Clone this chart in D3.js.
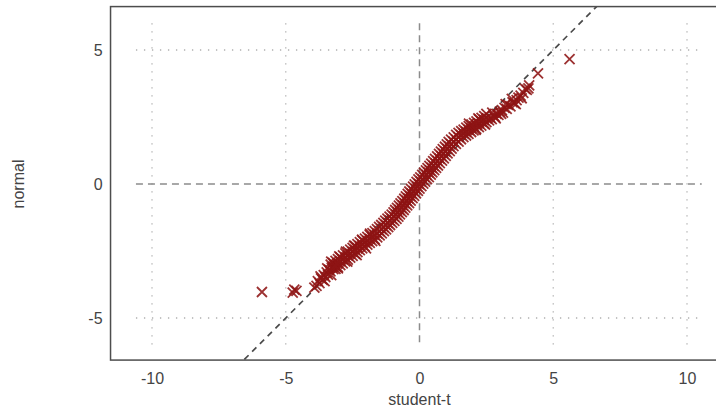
<!DOCTYPE html>
<html><head><meta charset="utf-8">
<script src="https://cdn.jsdelivr.net/npm/d3@7"></script>
<style>
html,body{margin:0;padding:0;background:#fff;}
svg{display:block;font-family:"Liberation Sans",Arial,sans-serif;}
</style>
</head><body>
<svg id="chart" width="716" height="410"></svg>
<script>
// ---- data ----
const xTicks = [-10, -5, 0, 5, 10];
const yTicks = [-5, 0, 5];
const xLabel = "student-t";
const yLabel = "normal";
const refLine = [[-8, -8], [8, 8]];   // y = x reference
// [student-t quantile, normal quantile]
const qqTail = [
  [-5.89,-4.03],[-4.74,-4.05],[-4.68,-3.94],[-4.60,-3.99],[-3.93,-3.87],
  [-3.80,-3.62],[-3.74,-3.70],[-3.68,-3.52],[-3.62,-3.58],[-3.58,-3.40],
  [-3.52,-3.47],[-3.47,-3.30],[-3.42,-3.38],[-3.38,-3.20],[-3.33,-3.26],
  [-3.28,-3.12],[-3.22,-3.18],[-3.18,-3.04],[-3.12,-3.08],[-3.08,-2.97],
  [-3.55,-3.62],[-3.30,-3.40],[-3.45,-3.15],[-3.70,-3.45],[-3.85,-3.80],
  [2.64,2.48],[2.70,2.42],[2.76,2.55],[2.82,2.50],[2.88,2.62],[2.95,2.58],
  [3.00,2.70],[3.08,2.76],[3.12,2.66],[3.18,2.84],[3.26,2.80],[3.32,2.95],
  [3.40,2.90],[3.48,3.05],[3.55,3.02],[3.63,3.13],[3.70,3.22],[3.78,3.30],
  [3.88,3.40],[4.01,3.51],[4.07,3.57],[4.10,3.68],[4.43,4.13],[5.61,4.66],
  [2.72,2.66],[2.85,2.45],[3.05,2.62],[3.22,2.98],[3.45,3.18],[3.60,2.98],
  [3.82,3.20],[3.95,3.55]
];
const qqCore = [
  [-3.23,-3.09],[-3.14,-3.02],[-3.05,-2.95],[-2.96,-2.88],[-2.87,-2.81],
  [-2.77,-2.74],[-2.68,-2.67],[-2.59,-2.60],[-2.50,-2.53],[-2.41,-2.46],
  [-2.32,-2.39],[-2.23,-2.32],[-2.14,-2.25],[-2.04,-2.18],[-1.95,-2.12],
  [-1.86,-2.05],[-1.77,-1.98],[-1.67,-1.91],[-1.58,-1.84],[-1.50,-1.76],
  [-1.42,-1.68],[-1.34,-1.61],[-1.26,-1.53],[-1.19,-1.45],[-1.11,-1.37],
  [-1.03,-1.30],[-0.95,-1.22],[-0.88,-1.14],[-0.82,-1.05],[-0.75,-0.97],
  [-0.68,-0.89],[-0.62,-0.80],[-0.55,-0.72],[-0.48,-0.63],[-0.42,-0.54],
  [-0.35,-0.45],[-0.29,-0.36],[-0.22,-0.27],[-0.15,-0.18],[-0.09,-0.09],
  [-0.02,0.00],[0.05,0.09],[0.12,0.17],[0.19,0.26],[0.26,0.34],
  [0.33,0.43],[0.39,0.51],[0.46,0.60],[0.53,0.68],[0.60,0.77],
  [0.67,0.86],[0.75,0.95],[0.82,1.04],[0.89,1.13],[0.96,1.22],
  [1.04,1.31],[1.11,1.40],[1.18,1.49],[1.27,1.58],[1.37,1.66],
  [1.46,1.75],[1.55,1.83],[1.65,1.89],[1.74,1.95],[1.84,2.02],
  [1.93,2.08],[2.03,2.14],[2.13,2.20],[2.22,2.26],[2.32,2.33],
  [2.41,2.39],[2.51,2.45]
];
const qqUpper = [
  [-3.32,-3.01],[-3.23,-2.94],[-3.14,-2.87],[-3.05,-2.80],[-2.96,-2.73],
  [-2.86,-2.66],[-2.77,-2.59],[-2.68,-2.52],[-2.59,-2.45],[-2.50,-2.38],
  [-2.41,-2.31],[-2.32,-2.24],[-2.23,-2.17],[-2.13,-2.10],[-2.04,-2.04],
  [-1.95,-1.97],[-1.86,-1.90],[-1.76,-1.83],[-1.67,-1.76],[-1.59,-1.68],
  [-1.51,-1.60],[-1.43,-1.53],[-1.35,-1.45],[-1.28,-1.37],[-1.20,-1.29],
  [-1.12,-1.22],[-1.04,-1.14],[-0.97,-1.06],[-0.91,-0.97],[-0.84,-0.89],
  [-0.77,-0.81],[-0.71,-0.72],[-0.64,-0.64],[-0.57,-0.55],[-0.51,-0.46],
  [-0.44,-0.37],[-0.38,-0.28],[-0.31,-0.19],[-0.24,-0.10],[-0.18,-0.01],
  [-0.11,0.08],[-0.04,0.17],[0.03,0.25],[0.10,0.34],[0.17,0.42],
  [0.24,0.51],[0.30,0.59],[0.37,0.68],[0.44,0.76],[0.51,0.85],
  [0.58,0.94],[0.66,1.03],[0.73,1.12],[0.80,1.21],[0.87,1.30],
  [0.95,1.39],[1.02,1.48],[1.09,1.57],[1.18,1.66],[1.28,1.74],
  [1.37,1.83],[1.46,1.91],[1.56,1.97],[1.65,2.03],[1.75,2.10],
  [1.84,2.16],[1.94,2.22],[2.04,2.28],[2.13,2.34],[2.23,2.41],
  [2.32,2.47],[2.42,2.53]
];
const qqLower = [
  [-3.14,-3.17],[-3.05,-3.10],[-2.96,-3.03],[-2.87,-2.96],[-2.78,-2.89],
  [-2.68,-2.82],[-2.59,-2.75],[-2.50,-2.68],[-2.41,-2.61],[-2.32,-2.54],
  [-2.23,-2.47],[-2.14,-2.40],[-2.05,-2.33],[-1.95,-2.26],[-1.86,-2.20],
  [-1.77,-2.13],[-1.68,-2.06],[-1.58,-1.99],[-1.49,-1.92],[-1.41,-1.84],
  [-1.33,-1.76],[-1.25,-1.69],[-1.17,-1.61],[-1.10,-1.53],[-1.02,-1.45],
  [-0.94,-1.38],[-0.86,-1.30],[-0.79,-1.22],[-0.73,-1.13],[-0.66,-1.05],
  [-0.59,-0.97],[-0.53,-0.88],[-0.46,-0.80],[-0.39,-0.71],[-0.33,-0.62],
  [-0.26,-0.53],[-0.20,-0.44],[-0.13,-0.35],[-0.06,-0.26],[0.00,-0.17],
  [0.07,-0.08],[0.14,0.01],[0.21,0.09],[0.28,0.18],[0.35,0.26],
  [0.42,0.35],[0.48,0.43],[0.55,0.52],[0.62,0.60],[0.69,0.69],
  [0.76,0.78],[0.84,0.87],[0.91,0.96],[0.98,1.05],[1.05,1.14],
  [1.13,1.23],[1.20,1.32],[1.27,1.41],[1.36,1.50],[1.46,1.58],
  [1.55,1.67],[1.64,1.75],[1.74,1.81],[1.83,1.87],[1.93,1.94],
  [2.02,2.00],[2.12,2.06],[2.22,2.12],[2.31,2.18],[2.41,2.25],
  [2.50,2.31],[2.60,2.37]
];
const qqFuzz = [
  [-3.30,-2.90],[-3.00,-2.70],[-2.75,-2.52],[-2.45,-2.30],[-2.15,-2.08],
  [-1.85,-1.85],[-3.05,-3.15],[-2.70,-2.90],[-2.35,-2.65],[-2.00,-2.40],
  [-1.65,-2.12],[1.85,2.25],[2.20,2.45],[2.50,2.62],[2.10,2.02],[2.45,2.22]
];

// ---- layout ----
const svg = d3.select("#chart");
const x = d3.scaleLinear().domain([-10, 10]).range([152, 687]);
const y = d3.scaleLinear().domain([-5, 5]).range([318, 50]);
const fx0 = x(-11.55), fx1 = x(11.55), fy0 = y(6.62), fy1 = y(-6.57);
const gx0 = -10.6, gx1 = 10.55, gy0 = -6.0, gy1 = 6.0;
const textColor = "#444";

svg.append("defs").append("clipPath").attr("id", "frameClip")
  .append("rect").attr("x", fx0).attr("y", fy0)
  .attr("width", fx1 - fx0).attr("height", fy1 - fy0);

// grid
const grid = svg.append("g");
xTicks.forEach(t => {
  grid.append("line")
    .attr("x1", x(t)).attr("x2", x(t)).attr("y1", y(gy1)).attr("y2", y(gy0))
    .attr("stroke", t === 0 ? "#8c8c8c" : "#b0b0b0")
    .attr("stroke-width", t === 0 ? 1.5 : 1.3)
    .attr("stroke-dasharray", t === 0 ? "7,5" : "1.3,6.7");
});
yTicks.forEach(t => {
  grid.append("line")
    .attr("x1", x(gx0)).attr("x2", x(gx1)).attr("y1", y(t)).attr("y2", y(t))
    .attr("stroke", t === 0 ? "#8c8c8c" : "#b0b0b0")
    .attr("stroke-width", t === 0 ? 1.5 : 1.3)
    .attr("stroke-dasharray", t === 0 ? "7,5" : "1.3,6.7");
});

// reference line
svg.append("path")
  .datum(refLine)
  .attr("clip-path", "url(#frameClip)")
  .attr("d", d3.line().x(d => x(d[0])).y(d => y(d[1])))
  .attr("fill", "none").attr("stroke", "#4a4a4a")
  .attr("stroke-width", 1.7).attr("stroke-dasharray", "6,5");

// points
const allPts = qqCore.concat(qqUpper, qqLower, qqFuzz, qqTail);
const s = 5;
svg.append("g")
  .selectAll("path").data(allPts).join("path")
  .attr("transform", d => `translate(${x(d[0])},${y(d[1])})`)
  .attr("d", `M${-s},${-s}L${s},${s}M${-s},${s}L${s},${-s}`)
  .attr("fill", "none").attr("stroke", "#8e1414")
  .attr("stroke-width", 1.8).attr("stroke-opacity", 0.88);

// frame
svg.append("rect").attr("x", fx0).attr("y", fy0)
  .attr("width", fx1 - fx0).attr("height", fy1 - fy0)
  .attr("fill", "none").attr("stroke", "#4d4d4d").attr("stroke-width", 1.5);

// axes
const xAxis = svg.append("g").attr("transform", `translate(0,${fy1})`)
  .call(d3.axisBottom(x).tickValues(xTicks).tickSize(0).tickPadding(13).tickFormat(d3.format("d")));
const yAxis = svg.append("g").attr("transform", `translate(${fx0},0)`)
  .call(d3.axisLeft(y).tickValues(yTicks).tickSize(0).tickPadding(8).tickFormat(d3.format("d")));
[xAxis, yAxis].forEach(a => {
  a.select(".domain").remove();
  a.selectAll("text").attr("fill", textColor).style("font-size", "16px")
    .style("font-family", '"Liberation Sans", Arial, sans-serif');
});
svg.selectAll(".tick text").text(d => String(d));

svg.append("text").attr("x", x(0)).attr("y", 405)
  .attr("text-anchor", "middle").attr("fill", textColor)
  .style("font-size", "16px").text(xLabel);
svg.append("text")
  .attr("transform", `translate(24,${y(0)}) rotate(-90)`)
  .attr("text-anchor", "middle").attr("fill", textColor)
  .style("font-size", "16px").text(yLabel);
</script>
</body></html>
